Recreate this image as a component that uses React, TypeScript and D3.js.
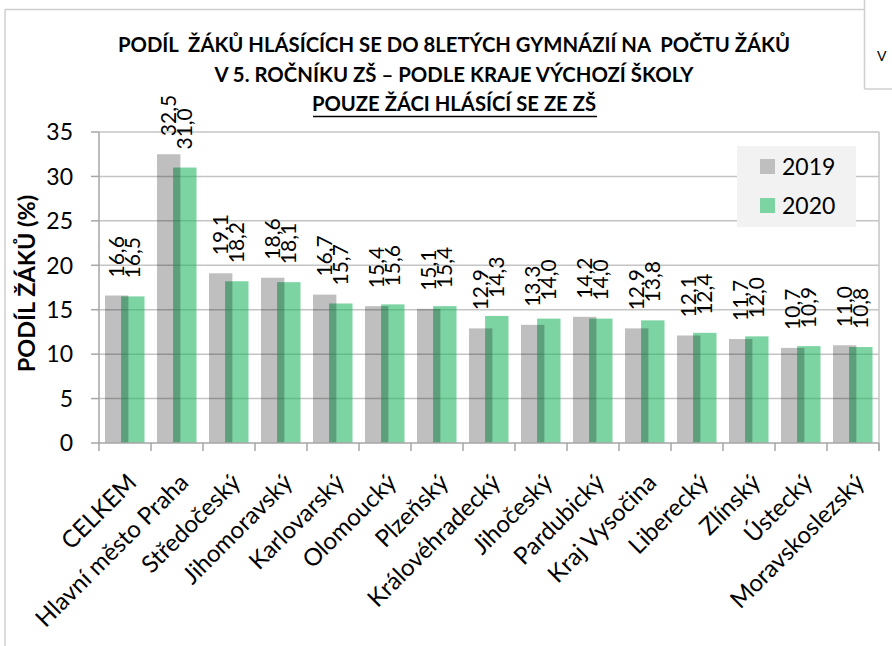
import React from "react";
import * as d3 from "d3";

const categories = [
  "CELKEM",
  "Hlavní město Praha",
  "Středočeský",
  "Jihomoravský",
  "Karlovarský",
  "Olomoucký",
  "Plzeňský",
  "Královéhradecký",
  "Jihočeský",
  "Pardubický",
  "Kraj Vysočina",
  "Liberecký",
  "Zlínský",
  "Ústecký",
  "Moravskoslezský",
];
const values2019 = [16.6, 32.5, 19.1, 18.6, 16.7, 15.4, 15.1, 12.9, 13.3, 14.2, 12.9, 12.1, 11.7, 10.7, 11.0];
const values2020 = [16.5, 31.0, 18.2, 18.1, 15.7, 15.6, 15.4, 14.3, 14.0, 14.0, 13.8, 12.4, 12.0, 10.9, 10.8];
const seriesNames = ["2019", "2020"];
const yTicks = [0, 5, 10, 15, 20, 25, 30, 35];
const titleLines = [
  "PODÍL  ŽÁKŮ HLÁSÍCÍCH SE DO 8LETÝCH GYMNÁZIÍ NA  POČTU ŽÁKŮ",
  "V 5. ROČNÍKU ZŠ – PODLE KRAJE VÝCHOZÍ ŠKOLY",
  "POUZE ŽÁCI HLÁSÍCÍ SE ZE ZŠ",
];
const yAxisTitle = "PODÍL ŽÁKŮ (%)";

const W = 892;
const H = 646;
const FONT = "Lato, 'Open Sans', sans-serif";

export default function App() {
  const left = 99;
  const right = 879;
  const top = 132;
  const bottom = 443;

  const x = d3.scaleBand<string>().domain(categories).range([left, right]).padding(0);
  const y = d3.scaleLinear().domain([0, 35]).range([bottom, top]);
  const bw = x.bandwidth();
  const barW = bw * 0.45;
  const grayOff = bw * 0.115;
  const greenOff = bw * 0.425;

  const fmt = (v: number) => d3.format(".1f")(v).replace(".", ",");

  const titleWidths = [672, 479, 284];
  const titleY = [52, 82, 111];

  const gridColor = "#c4c4c4";
  const axisColor = "#a6a6a6";
  const frameColor = "#cfcfcf";

  return (
    <svg
      width={W}
      height={H}
      style={{ position: "absolute", left: 0, top: 0, background: "#fff" }}
      fontFamily={FONT}
    >
      <rect x={0} y={0} width={W} height={H} fill="#fff" />
      {/* frames */}
      <line x1={5} y1={9.5} x2={864.5} y2={9.5} stroke={frameColor} strokeWidth={1.5} />
      <line x1={5} y1={9.5} x2={5} y2={H} stroke={frameColor} strokeWidth={1.5} />
      <line x1={864.5} y1={0} x2={864.5} y2={89} stroke={frameColor} strokeWidth={1.5} />
      <line x1={864.5} y1={89} x2={W} y2={89} stroke={frameColor} strokeWidth={1.5} />
      <text x={877} y={61} fontSize={14} fill="#000" fontFamily={FONT}>V</text>

      {/* title */}
      {titleLines.map((t, i) => (
        <text
          key={i}
          x={454}
          y={titleY[i]}
          textAnchor="middle"
          fontWeight="bold"
          fontSize={20}
          textLength={titleWidths[i]}
          lengthAdjust="spacingAndGlyphs"
          fill="#000"
          style={{ whiteSpace: "pre" }}
        >
          {t}
        </text>
      ))}
      <line x1={313} y1={116.5} x2={597} y2={116.5} stroke="#000" strokeWidth={1.5} />

      {/* gridlines */}
      {yTicks.filter((t) => t > 0).map((t) => (
        <line key={t} x1={left} x2={right} y1={y(t)} y2={y(t)} stroke={gridColor} strokeWidth={1.5} />
      ))}
      <line x1={right} x2={right} y1={top} y2={bottom + 8} stroke={gridColor} strokeWidth={1.5} />

      {/* bars 2020 (green) */}
      {categories.map((c, i) => (
        <rect
          key={"g" + c}
          x={(x(c) as number) + greenOff}
          y={y(values2020[i])}
          width={barW}
          height={bottom - y(values2020[i])}
          fill="rgb(38,183,102)"
          fillOpacity={0.6}
        />
      ))}
      {/* bars 2019 (gray) */}
      {categories.map((c, i) => (
        <rect
          key={"s" + c}
          x={(x(c) as number) + grayOff}
          y={y(values2019[i])}
          width={barW}
          height={bottom - y(values2019[i])}
          fill="#000"
          fillOpacity={0.25}
        />
      ))}

      {/* axes */}
      <line x1={left} x2={right} y1={bottom} y2={bottom} stroke={axisColor} strokeWidth={1.5} />
      <line x1={left} x2={left} y1={top} y2={bottom + 8} stroke={axisColor} strokeWidth={1.5} />
      {yTicks.map((t) => (
        <line key={"yt" + t} x1={left - 8} x2={left} y1={y(t)} y2={y(t)} stroke={axisColor} strokeWidth={1.5} />
      ))}
      {categories.map((c) => (
        <line
          key={"xt" + c}
          x1={(x(c) as number) + bw}
          x2={(x(c) as number) + bw}
          y1={bottom}
          y2={bottom + 8}
          stroke={axisColor}
          strokeWidth={1.5}
        />
      ))}
      {yTicks.map((t) => (
        <text key={"yl" + t} x={73} y={y(t)} dy="0.36em" textAnchor="end" fontSize={23} fill="#000">
          {t}
        </text>
      ))}

      {/* y axis title */}
      <text
        transform={`translate(27, ${(top + bottom) / 2 - 4}) rotate(-90)`}
        textAnchor="middle"
        dy="0.36em"
        fontWeight="bold"
        fontSize={23.5}
        fill="#000"
      >
        {yAxisTitle}
      </text>

      {/* category labels */}
      {categories.map((c) => {
        const cx = (x(c) as number) + bw / 2;
        return (
          <text
            key={"cl" + c}
            transform={`translate(${cx + 13}, 484) rotate(-45)`}
            textAnchor="end"
            fontSize={24}
            fill="#000"
          >
            {c}
          </text>
        );
      })}

      {/* data labels */}
      {categories.map((c, i) => {
        const gx = (x(c) as number) + grayOff + barW / 2;
        const nx = (x(c) as number) + greenOff + barW / 2;
        return (
          <g key={"dl" + c}>
            <text
              transform={`translate(${gx}, ${y(values2019[i]) - 18}) rotate(-90)`}
              dy="0.36em"
              textAnchor="start"
              fontSize={21}
              fill="#000"
            >
              {fmt(values2019[i])}
            </text>
            <text
              transform={`translate(${nx}, ${y(values2020[i]) - 18}) rotate(-90)`}
              dy="0.36em"
              textAnchor="start"
              fontSize={21}
              fill="#000"
            >
              {fmt(values2020[i])}
            </text>
          </g>
        );
      })}

      {/* legend */}
      <rect x={737} y={146} width={119} height={81} fill="#f2f2f2" />
      {seriesNames.map((s, i) => (
        <g key={"lg" + s}>
          <rect
            x={760}
            y={159 + i * 39}
            width={15}
            height={15}
            fill={i === 0 ? "#bfbfbf" : "rgb(125,212,163)"}
          />
          <text x={782} y={166.5 + i * 39} dy="0.36em" fontSize={23} fill="#000">
            {s}
          </text>
        </g>
      ))}
    </svg>
  );
}
